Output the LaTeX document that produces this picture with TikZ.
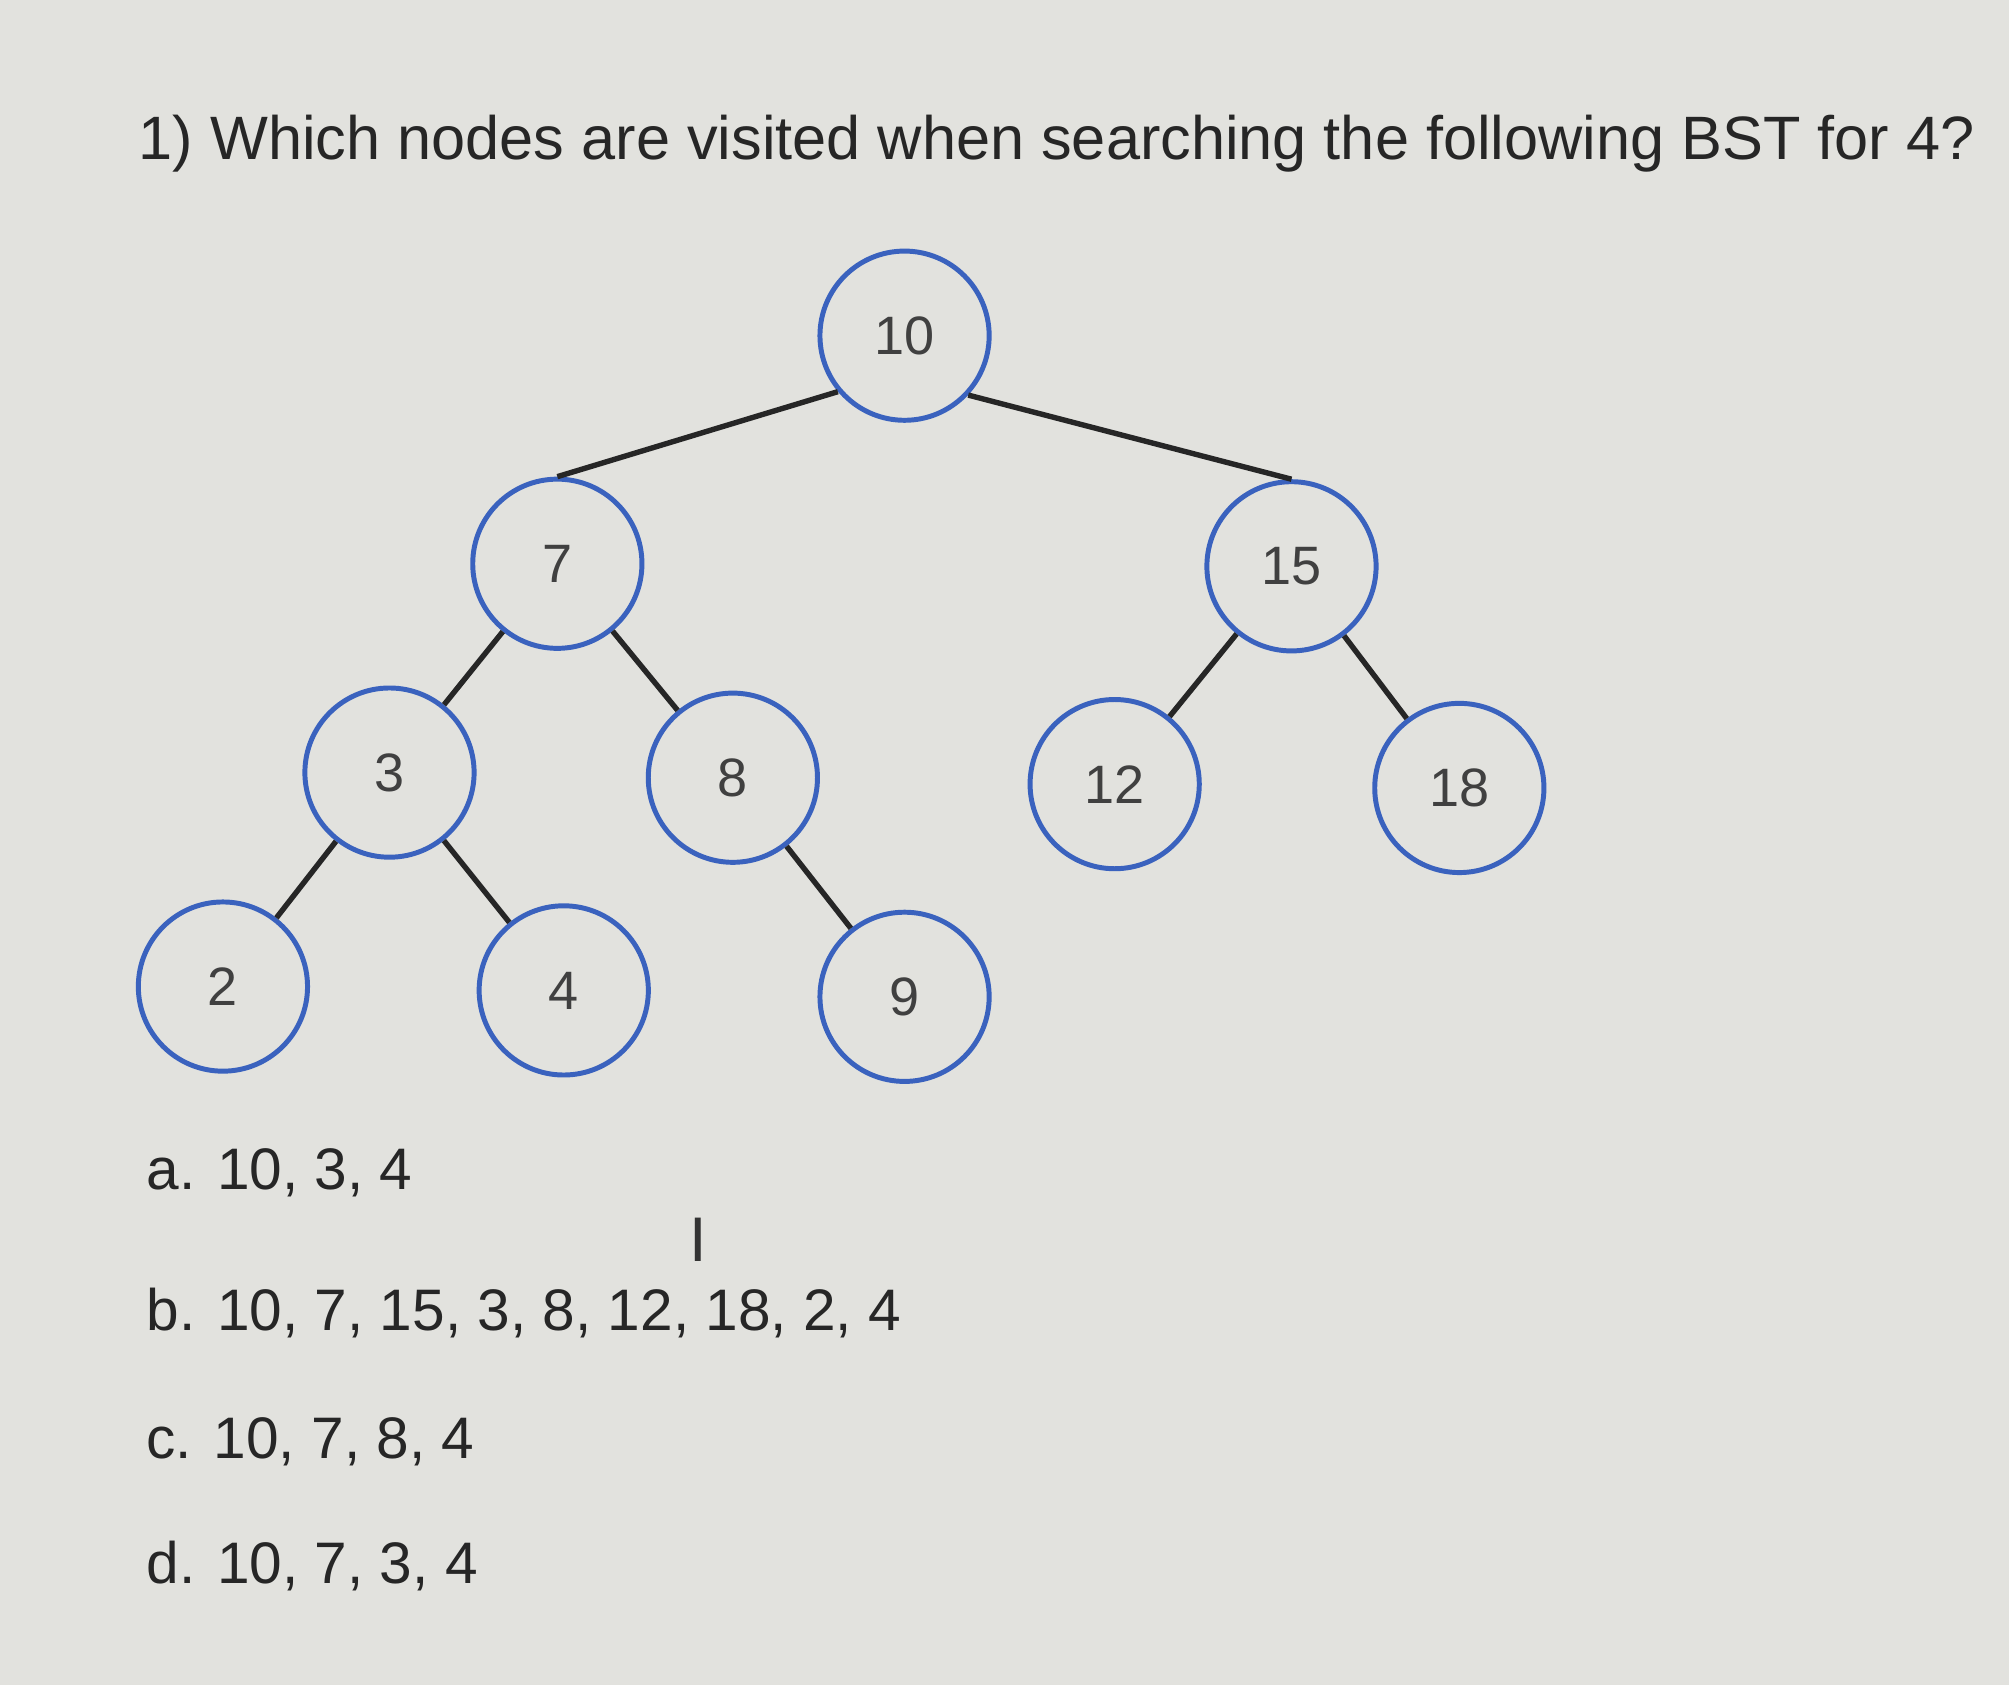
\documentclass[tikz,border=0pt]{standalone}
\usepackage{fontspec}
\setmainfont{Liberation Sans}
\definecolor{bg}{RGB}{226,226,222}
\definecolor{nodeblue}{RGB}{58,98,190}
\begin{document}
\begin{tikzpicture}[x=0.01cm,y=-0.01cm,
  bst/.style={circle,draw=nodeblue,line width=1.1pt,minimum size=1.32cm,inner sep=0pt,font=\fontsize{12}{14}\selectfont,text=black!75},
  edge/.style={line width=1.2pt,black!85},
  opt/.style={anchor=west,font=\fontsize{13}{15}\selectfont,text=black!85}]
\fill[bg] (0,0) rectangle (1568,1315);
\useasboundingbox (0,0) rectangle (1568,1315);
\node[anchor=west,font=\fontsize{13.6}{16}\selectfont,text=black!85] (title) at (96,112) {1) Which nodes are visited when searching the following BST for 4?};
\node[bst] (n10) at (706,262) {10};
\node[bst] (n7) at (435,440) {7};
\node[bst] (n15) at (1008,442) {15};
\node[bst] (n3) at (304,603) {3};
\node[bst] (n8) at (572,607) {8};
\node[bst] (n12) at (870,612) {12};
\node[bst] (n18) at (1139,615) {18};
\node[bst] (n2) at (174,770) {2};
\node[bst] (n4) at (440,773) {4};
\node[bst] (n9) at (706,778) {9};
\draw[edge] (n10.220) -- (n7.north);
\draw[edge] (n10.317) -- (n15.north);
\draw[edge] (n7) -- (n3);
\draw[edge] (n7) -- (n8);
\draw[edge] (n15) -- (n12);
\draw[edge] (n15) -- (n18);
\draw[edge] (n3) -- (n2);
\draw[edge] (n3) -- (n4);
\draw[edge] (n8) -- (n9);
\node[opt] (oa) at (102,915) {a. 10, 3, 4};
\node[opt] (ob) at (102,1025) {b. 10, 7, 15, 3, 8, 12, 18, 2, 4};
\node[opt] (oc) at (102,1125) {c. 10, 7, 8, 4};
\node[opt] (od) at (102,1222) {d. 10, 7, 3, 4};
\node[font=\fontsize{14}{16}\selectfont\rmfamily,text=black!80] (cursor) at (545,968) {I};
\end{tikzpicture}
\end{document}
